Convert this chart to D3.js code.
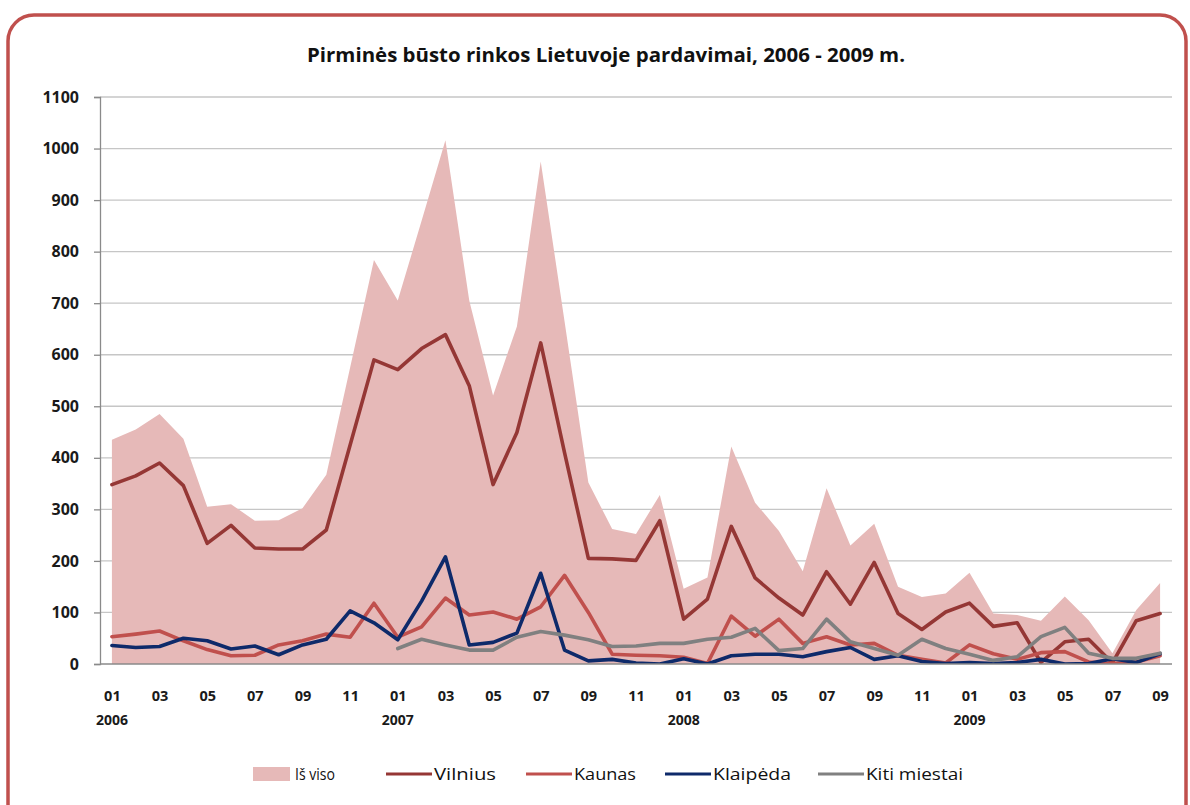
<!DOCTYPE html>
<html>
<head>
<meta charset="utf-8">
<script src="https://cdn.jsdelivr.net/npm/d3@7"></script>
<style>
  body { margin: 0; background: #fff; }
  svg { display: block; }
  text { font-family: "Open Sans", "Noto Sans", sans-serif; }
</style>
</head>
<body>
<svg id="chart" width="1190" height="805"></svg>
<script>
// Monthly categories, 2006-01 … 2009-09
const categories = [
  "2006-01","2006-02","2006-03","2006-04","2006-05","2006-06","2006-07","2006-08","2006-09","2006-10","2006-11","2006-12",
  "2007-01","2007-02","2007-03","2007-04","2007-05","2007-06","2007-07","2007-08","2007-09","2007-10","2007-11","2007-12",
  "2008-01","2008-02","2008-03","2008-04","2008-05","2008-06","2008-07","2008-08","2008-09","2008-10","2008-11","2008-12",
  "2009-01","2009-02","2009-03","2009-04","2009-05","2009-06","2009-07","2009-08","2009-09"
];

// Axis labels
const monthTickCats = categories.filter((c, i) => i % 2 === 0);
const monthTickLabels = ["01","03","05","07","09","11","01","03","05","07","09","11","01","03","05","07","09","11","01","03","05","07","09"];
const yearTickCats = ["2006-01","2007-01","2008-01","2009-01"];
const yearTickLabels = ["2006","2007","2008","2009"];
const yTicks = [0,100,200,300,400,500,600,700,800,900,1000,1100];

// Sales, units per month
const isViso = [435,455,485,437,305,310,278,279,302,367,575,784,705,860,1016,705,521,655,975,665,352,262,252,328,146,168,422,313,258,180,341,230,272,150,130,137,177,98,95,84,131,85,21,105,157];
const vilnius = [348,365,390,346,234,269,225,223,223,260,425,590,571,612,639,540,348,449,623,410,205,204,201,278,87,126,267,167,128,95,179,116,197,98,67,101,118,73,80,3,43,48,2,84,98];
const kaunas = [53,58,64,45,28,16,17,37,45,58,52,118,52,72,128,95,101,87,111,172,100,19,17,16,13,1,93,54,87,40,53,37,40,17,9,2,37,20,9,22,24,4,1,4,16];
const klaipeda = [36,32,34,50,45,29,35,18,37,48,103,80,47,122,208,37,42,60,176,27,6,9,2,0,10,0,16,19,19,14,24,32,9,16,5,1,3,1,3,9,0,1,10,3,20];
const kitiMiestai = [null,null,null,null,null,null,null,null,null,null,null,null,30,48,37,27,27,52,63,56,47,34,35,40,40,48,52,69,26,30,87,43,30,17,48,30,19,7,14,53,71,21,11,11,21];

const areaSeries = { name: "Iš viso", values: isViso, color: "#E6B9B8" };
const lineSeries = [
  { name: "Vilnius", values: vilnius, color: "#953735" },
  { name: "Kaunas", values: kaunas, color: "#C0504D" },
  { name: "Klaipėda", values: klaipeda, color: "#0E2A6A" },
  { name: "Kiti miestai", values: kitiMiestai, color: "#808080" }
];

const title = "Pirminės būsto rinkos Lietuvoje pardavimai, 2006 - 2009 m.";

const svg = d3.select("#chart");
const plot = { left: 100, right: 1172, top: 97, bottom: 664 };
const labelFont = "'Open Sans', sans-serif";
const narrowFont = "'Liberation Sans Narrow', 'Arial Narrow', 'Open Sans', sans-serif";

// Outer rounded frame
svg.append("rect")
  .attr("x", 8).attr("y", 15)
  .attr("width", 1178).attr("height", 820)
  .attr("rx", 26).attr("ry", 26)
  .attr("fill", "#fff")
  .attr("stroke", "#C0504D")
  .attr("stroke-width", 3.5);

// Title
svg.append("text")
  .attr("x", 606).attr("y", 62)
  .attr("text-anchor", "middle")
  .attr("font-size", 19)
  .attr("font-weight", 700)
  .attr("fill", "#111")
  .attr("textLength", 598)
  .attr("lengthAdjust", "spacingAndGlyphs")
  .text(title);

const x = d3.scalePoint().domain(categories).range([plot.left, plot.right]).padding(0.5);
const y = d3.scaleLinear().domain([0, 1100]).range([plot.bottom, plot.top]);

// Horizontal gridlines
svg.append("g")
  .selectAll("line")
  .data(yTicks.filter(t => t > 0))
  .join("line")
  .attr("x1", plot.left).attr("x2", plot.right)
  .attr("y1", d => y(d)).attr("y2", d => y(d))
  .attr("stroke", "#C6C6C6")
  .attr("stroke-width", 1.3);

// Clip to the plotting area
svg.append("clipPath").attr("id", "plotClip")
  .append("rect")
  .attr("x", plot.left).attr("y", plot.top)
  .attr("width", plot.right - plot.left).attr("height", plot.bottom - plot.top);

const gPlot = svg.append("g").attr("clip-path", "url(#plotClip)");

// Total sales as filled area
const area = d3.area()
  .x((d, i) => x(categories[i]))
  .y0(y(0))
  .y1(d => y(d));
gPlot.append("path")
  .datum(areaSeries.values)
  .attr("d", area)
  .attr("fill", areaSeries.color);

// City lines
const line = d3.line()
  .defined(d => d != null)
  .x((d, i) => x(categories[i]))
  .y(d => y(d));
lineSeries.forEach(s => {
  gPlot.append("path")
    .datum(s.values)
    .attr("d", line)
    .attr("fill", "none")
    .attr("stroke", s.color)
    .attr("stroke-width", 3.6)
    .attr("stroke-linejoin", "round")
    .attr("stroke-linecap", "round");
});

// Y axis
const yAxis = d3.axisLeft(y).tickValues(yTicks).tickFormat(d3.format("d")).tickSize(6).tickPadding(15);
const gy = svg.append("g").attr("transform", `translate(${plot.left},0)`).call(yAxis);
gy.select(".domain").attr("stroke", "#8A8A8A").attr("stroke-width", 1.3);
gy.selectAll(".tick line").attr("stroke", "#8A8A8A").attr("stroke-width", 1.3);
gy.selectAll(".tick text")
  .attr("font-size", 16).attr("font-weight", 700).attr("fill", "#1a1a1a")
  .attr("font-family", labelFont);

// X axis baseline
svg.append("line")
  .attr("x1", plot.left).attr("x2", plot.right)
  .attr("y1", plot.bottom).attr("y2", plot.bottom)
  .attr("stroke", "#8A8A8A").attr("stroke-width", 1.3);

// Month labels
const xAxis = d3.axisBottom(x).tickValues(monthTickCats)
  .tickFormat((d, i) => monthTickLabels[i]).tickSize(0).tickPadding(27);
const gx = svg.append("g").attr("transform", `translate(0,${plot.bottom})`).call(xAxis);
gx.select(".domain").remove();
gx.selectAll(".tick text")
  .attr("font-size", 14.5).attr("font-weight", 700).attr("fill", "#1a1a1a")
  .attr("font-family", labelFont);

// Year labels
svg.append("g")
  .selectAll("text")
  .data(yearTickCats)
  .join("text")
  .attr("x", d => x(d))
  .attr("y", 725)
  .attr("text-anchor", "middle")
  .attr("font-size", 14).attr("font-weight", 700).attr("fill", "#1a1a1a")
  .attr("font-family", labelFont)
  .text((d, i) => yearTickLabels[i]);

// Legend
const legendItems = [
  { type: "area", series: areaSeries, x: 253, textLen: 40 },
  { type: "line", series: lineSeries[0], x: 386, textLen: 62 },
  { type: "line", series: lineSeries[1], x: 526, textLen: 62 },
  { type: "line", series: lineSeries[2], x: 665, textLen: 78 },
  { type: "line", series: lineSeries[3], x: 818, textLen: 97 }
];
const ly = 774;
const gl = svg.append("g");
legendItems.forEach(it => {
  if (it.type === "area") {
    gl.append("rect").attr("x", it.x).attr("y", ly - 7).attr("width", 37).attr("height", 14)
      .attr("fill", it.series.color);
  } else {
    gl.append("line").attr("x1", it.x).attr("x2", it.x + 46).attr("y1", ly).attr("y2", ly)
      .attr("stroke", it.series.color).attr("stroke-width", 3);
  }
  gl.append("text")
    .attr("x", it.x + (it.type === "area" ? 42 : 48))
    .attr("y", ly + 6)
    .attr("font-size", 17)
    .attr("font-family", narrowFont)
    .attr("fill", "#111")
    .attr("textLength", it.textLen)
    .attr("lengthAdjust", "spacingAndGlyphs")
    .text(it.series.name);
});
</script>
</body>
</html>
